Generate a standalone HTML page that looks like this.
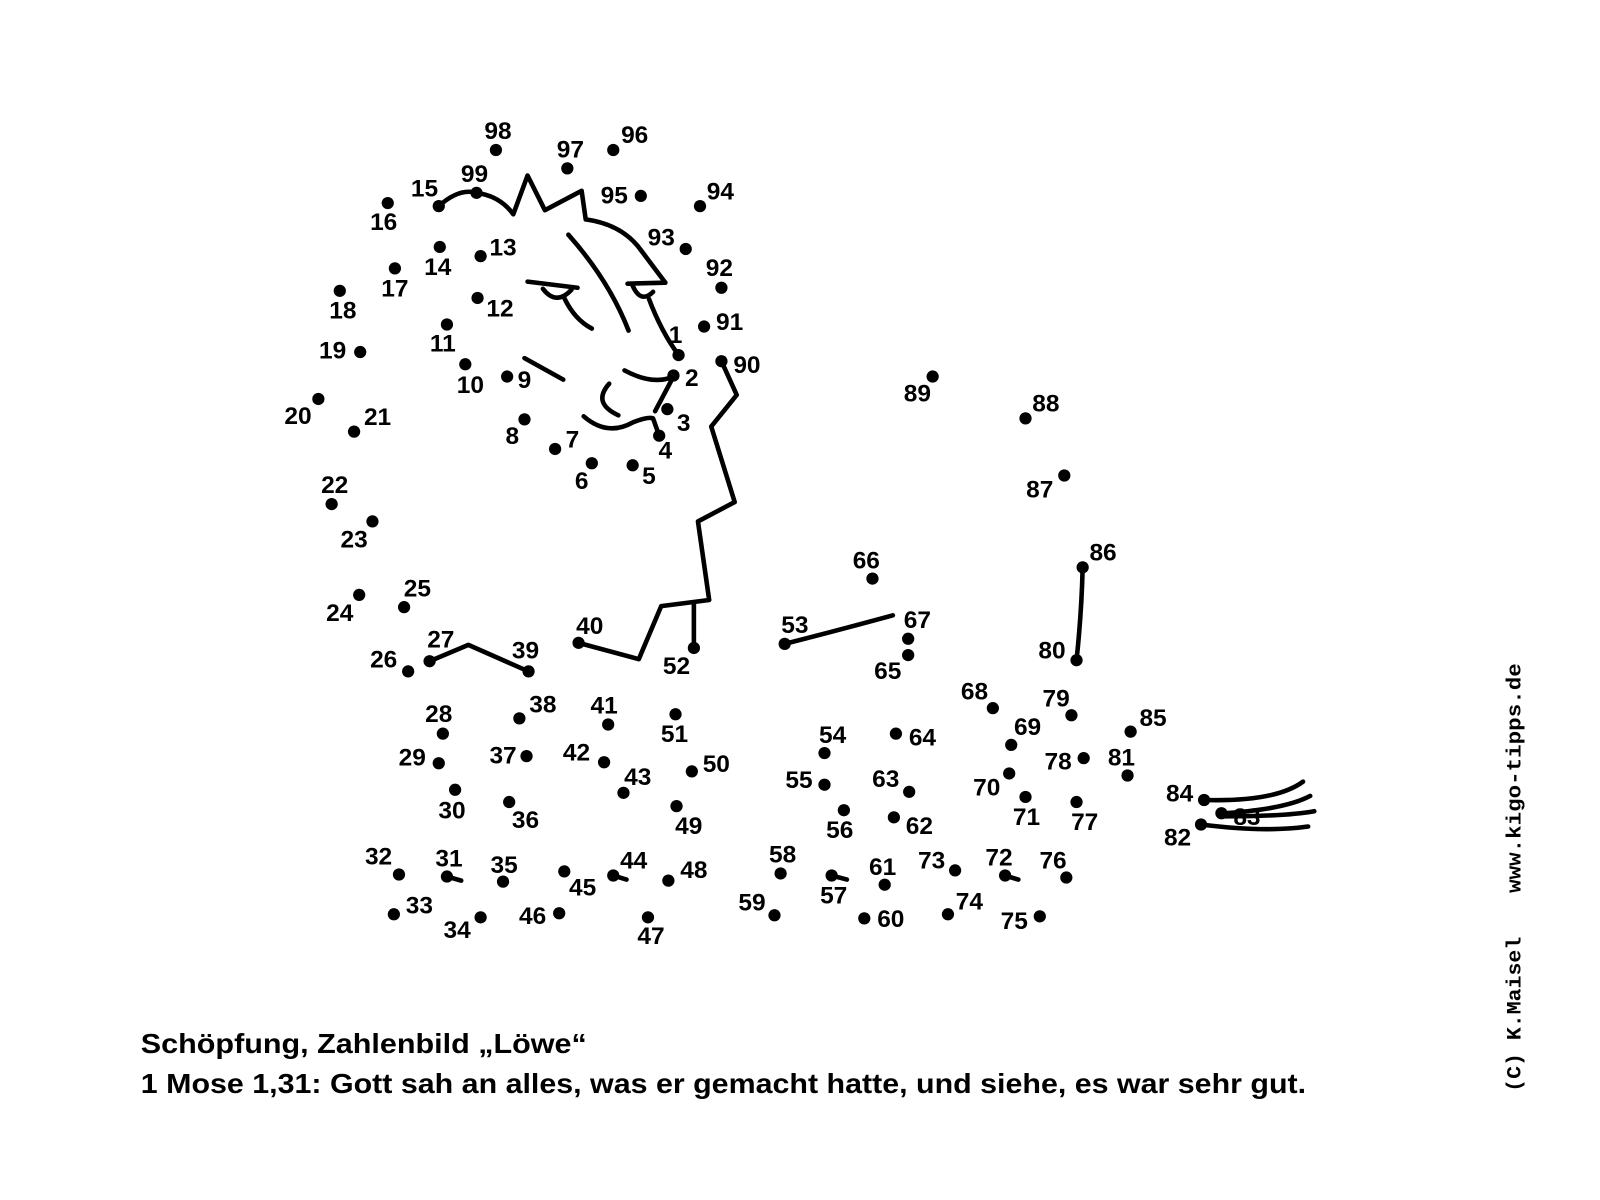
<!DOCTYPE html>
<html><head><meta charset="utf-8"><style>
html,body{margin:0;padding:0;background:#fff;}
svg{display:block;}
.l{font-family:"Liberation Sans",sans-serif;font-weight:bold;font-size:24px;fill:#000;text-anchor:middle;dominant-baseline:central;}
</style></head><body>
<svg width="1600" height="1200" viewBox="0 0 1568 1176" xmlns="http://www.w3.org/2000/svg">
<rect width="1568" height="1176" fill="#fff"/>
<g fill="none" stroke="#000" stroke-width="4.5" stroke-linecap="round" stroke-linejoin="round">
<path d="M430,202 Q450,184 467,189 Q490,192 503,210 L517,172 L534,206 L570,187 L574,215 Q610,220 628,245 L652,277"/>
<path d="M615,278 L652,277"/>
<path d="M620,280 Q628,298 640,286"/>
<path d="M636,293 Q648,325 665,348"/>
<path d="M557,230 Q597,275 616,324"/>
<path d="M517,276 L566,282"/>
<path d="M532,283 Q545,300 560,284"/>
<path d="M553,292 Q563,313 580,322"/>
<path d="M514,351 L552,372"/>
<path d="M612,363 Q640,378 660,369 L642,403"/>
<path d="M597,376 Q580,395 606,407"/>
<path d="M572,408 Q595,428 620,414 Q635,408 640,410 L646,427"/>
<path d="M707,354 L722,387 L697,418 L720,492 L684,511 L695,588 L648,594 L626,646 L567,630"/>
<path d="M680,635 L680,592"/>
<path d="M421,648 L459,632 L518,658"/>
<path d="M769,631 Q820,618 875,603"/>
<path d="M1061,556 Q1060,600 1055,647"/>
<path d="M1180,784 Q1250,786 1277,766"/>
<path d="M1200,797 Q1260,793 1284,780"/>
<path d="M1200,800 Q1260,800 1288,795"/>
<path d="M1177,808 Q1240,816 1282,810"/>
<path d="M438,859 L452,863"/>
<path d="M601,858 L614,862"/>
<path d="M815,858 L830,862"/>
<path d="M985,858 L998,862"/>
</g>
<g fill="#000">
<circle cx="486" cy="147" r="6"/><circle cx="556" cy="165" r="6"/><circle cx="601" cy="147" r="6"/><circle cx="628" cy="192" r="6"/><circle cx="686" cy="202" r="6"/><circle cx="467" cy="189" r="6"/><circle cx="430" cy="202" r="6"/><circle cx="380" cy="199" r="6"/><circle cx="471" cy="251" r="6"/><circle cx="431" cy="242" r="6"/><circle cx="672" cy="244" r="6"/><circle cx="707" cy="282" r="6"/><circle cx="387" cy="263" r="6"/><circle cx="333" cy="285" r="6"/><circle cx="468" cy="292" r="6"/><circle cx="690" cy="320" r="6"/><circle cx="438" cy="318" r="6"/><circle cx="665" cy="348" r="6"/><circle cx="353" cy="345" r="6"/><circle cx="707" cy="354" r="6"/><circle cx="456" cy="357" r="6"/><circle cx="497" cy="369" r="6"/><circle cx="660" cy="368" r="6"/><circle cx="914" cy="369" r="6"/><circle cx="312" cy="391" r="6"/><circle cx="347" cy="423" r="6"/><circle cx="1005" cy="410" r="6"/><circle cx="514" cy="411" r="6"/><circle cx="654" cy="401" r="6"/><circle cx="544" cy="440" r="6"/><circle cx="646" cy="427" r="6"/><circle cx="580" cy="454" r="6"/><circle cx="620" cy="456" r="6"/><circle cx="1043" cy="466" r="6"/><circle cx="325" cy="494" r="6"/><circle cx="365" cy="511" r="6"/><circle cx="1061" cy="556" r="6"/><circle cx="855" cy="567" r="6"/><circle cx="352" cy="583" r="6"/><circle cx="396" cy="595" r="6"/><circle cx="567" cy="630" r="6"/><circle cx="769" cy="631" r="6"/><circle cx="890" cy="626" r="6"/><circle cx="421" cy="648" r="6"/><circle cx="518" cy="658" r="6"/><circle cx="680" cy="635" r="6"/><circle cx="1055" cy="647" r="6"/><circle cx="400" cy="658" r="6"/><circle cx="890" cy="642" r="6"/><circle cx="973" cy="694" r="6"/><circle cx="1050" cy="701" r="6"/><circle cx="1108" cy="717" r="6"/><circle cx="434" cy="719" r="6"/><circle cx="509" cy="704" r="6"/><circle cx="596" cy="710" r="6"/><circle cx="662" cy="700" r="6"/><circle cx="808" cy="738" r="6"/><circle cx="878" cy="719" r="6"/><circle cx="991" cy="730" r="6"/><circle cx="430" cy="748" r="6"/><circle cx="516" cy="741" r="6"/><circle cx="592" cy="747" r="6"/><circle cx="678" cy="756" r="6"/><circle cx="1062" cy="743" r="6"/><circle cx="1105" cy="760" r="6"/><circle cx="808" cy="769" r="6"/><circle cx="891" cy="776" r="6"/><circle cx="989" cy="758" r="6"/><circle cx="611" cy="777" r="6"/><circle cx="446" cy="774" r="6"/><circle cx="499" cy="786" r="6"/><circle cx="663" cy="790" r="6"/><circle cx="1005" cy="781" r="6"/><circle cx="1055" cy="786" r="6"/><circle cx="1180" cy="784" r="6"/><circle cx="1197" cy="797" r="6"/><circle cx="1177" cy="808" r="6"/><circle cx="827" cy="794" r="6"/><circle cx="876" cy="801" r="6"/><circle cx="391" cy="857" r="6"/><circle cx="438" cy="859" r="6"/><circle cx="493" cy="864" r="6"/><circle cx="553" cy="854" r="6"/><circle cx="601" cy="858" r="6"/><circle cx="655" cy="863" r="6"/><circle cx="765" cy="856" r="6"/><circle cx="815" cy="858" r="6"/><circle cx="867" cy="867" r="6"/><circle cx="936" cy="853" r="6"/><circle cx="985" cy="858" r="6"/><circle cx="1045" cy="860" r="6"/><circle cx="759" cy="897" r="6"/><circle cx="386" cy="896" r="6"/><circle cx="471" cy="899" r="6"/><circle cx="548" cy="895" r="6"/><circle cx="635" cy="899" r="6"/><circle cx="847" cy="900" r="6"/><circle cx="929" cy="896" r="6"/><circle cx="1019" cy="898" r="6"/>
</g>
<g class="l">
<text x="488" y="129">98</text><text x="559" y="147">97</text><text x="622" y="133">96</text><text x="602" y="192">95</text><text x="706" y="188">94</text><text x="465" y="171">99</text><text x="416" y="185">15</text><text x="376" y="218">16</text><text x="493" y="243">13</text><text x="429" y="262">14</text><text x="648" y="233">93</text><text x="705" y="263">92</text><text x="387" y="283">17</text><text x="336" y="305">18</text><text x="490" y="303">12</text><text x="715" y="316">91</text><text x="434" y="337">11</text><text x="662" y="329">1</text><text x="326" y="344">19</text><text x="732" y="358">90</text><text x="461" y="378">10</text><text x="514" y="373">9</text><text x="678" y="371">2</text><text x="899" y="386">89</text><text x="292" y="408">20</text><text x="370" y="409">21</text><text x="1025" y="396">88</text><text x="502" y="428">8</text><text x="670" y="415">3</text><text x="561" y="431">7</text><text x="652" y="442">4</text><text x="570" y="472">6</text><text x="636" y="467">5</text><text x="1019" y="480">87</text><text x="328" y="476">22</text><text x="347" y="529">23</text><text x="1081" y="542">86</text><text x="849" y="550">66</text><text x="333" y="601">24</text><text x="409" y="577">25</text><text x="578" y="614">40</text><text x="779" y="613">53</text><text x="899" y="608">67</text><text x="432" y="627">27</text><text x="515" y="638">39</text><text x="663" y="653">52</text><text x="1031" y="638">80</text><text x="376" y="647">26</text><text x="870" y="658">65</text><text x="955" y="678">68</text><text x="1035" y="685">79</text><text x="1130" y="704">85</text><text x="430" y="700">28</text><text x="532" y="691">38</text><text x="592" y="692">41</text><text x="661" y="720">51</text><text x="816" y="721">54</text><text x="904" y="723">64</text><text x="1007" y="713">69</text><text x="404" y="743">29</text><text x="493" y="741">37</text><text x="565" y="738">42</text><text x="702" y="749">50</text><text x="1037" y="747">78</text><text x="1099" y="743">81</text><text x="783" y="765">55</text><text x="868" y="764">63</text><text x="967" y="772">70</text><text x="625" y="762">43</text><text x="443" y="795">30</text><text x="515" y="804">36</text><text x="675" y="810">49</text><text x="1006" y="801">71</text><text x="1063" y="806">77</text><text x="1156" y="778">84</text><text x="1222" y="801">83</text><text x="1154" y="821">82</text><text x="823" y="814">56</text><text x="901" y="810">62</text><text x="371" y="840">32</text><text x="440" y="842">31</text><text x="494" y="848">35</text><text x="571" y="870">45</text><text x="621" y="844">44</text><text x="680" y="853">48</text><text x="767" y="838">58</text><text x="817" y="878">57</text><text x="865" y="850">61</text><text x="913" y="844">73</text><text x="979" y="841">72</text><text x="1032" y="844">76</text><text x="737" y="885">59</text><text x="411" y="888">33</text><text x="448" y="912">34</text><text x="522" y="898">46</text><text x="638" y="918">47</text><text x="873" y="901">60</text><text x="950" y="884">74</text><text x="994" y="903">75</text>
</g>
<g font-family="'Liberation Sans',sans-serif" font-weight="bold" font-size="27" fill="#000">
<text x="138" y="1032" textLength="437" lengthAdjust="spacingAndGlyphs">Schöpfung, Zahlenbild „Löwe“</text>
<text x="138" y="1071" textLength="1142" lengthAdjust="spacingAndGlyphs">1 Mose 1,31: Gott sah an alles, was er gemacht hatte, und siehe, es war sehr gut.</text>
</g>
<g font-family="'Liberation Mono',monospace" font-size="20" font-weight="bold" fill="#000" transform="translate(1490,1070) rotate(-90)">
<text x="0" y="0" textLength="152" lengthAdjust="spacingAndGlyphs">(C) K.Maisel</text>
<text x="195" y="0" textLength="225" lengthAdjust="spacingAndGlyphs">www.kigo-tipps.de</text>
</g>
</svg>
</body></html>
